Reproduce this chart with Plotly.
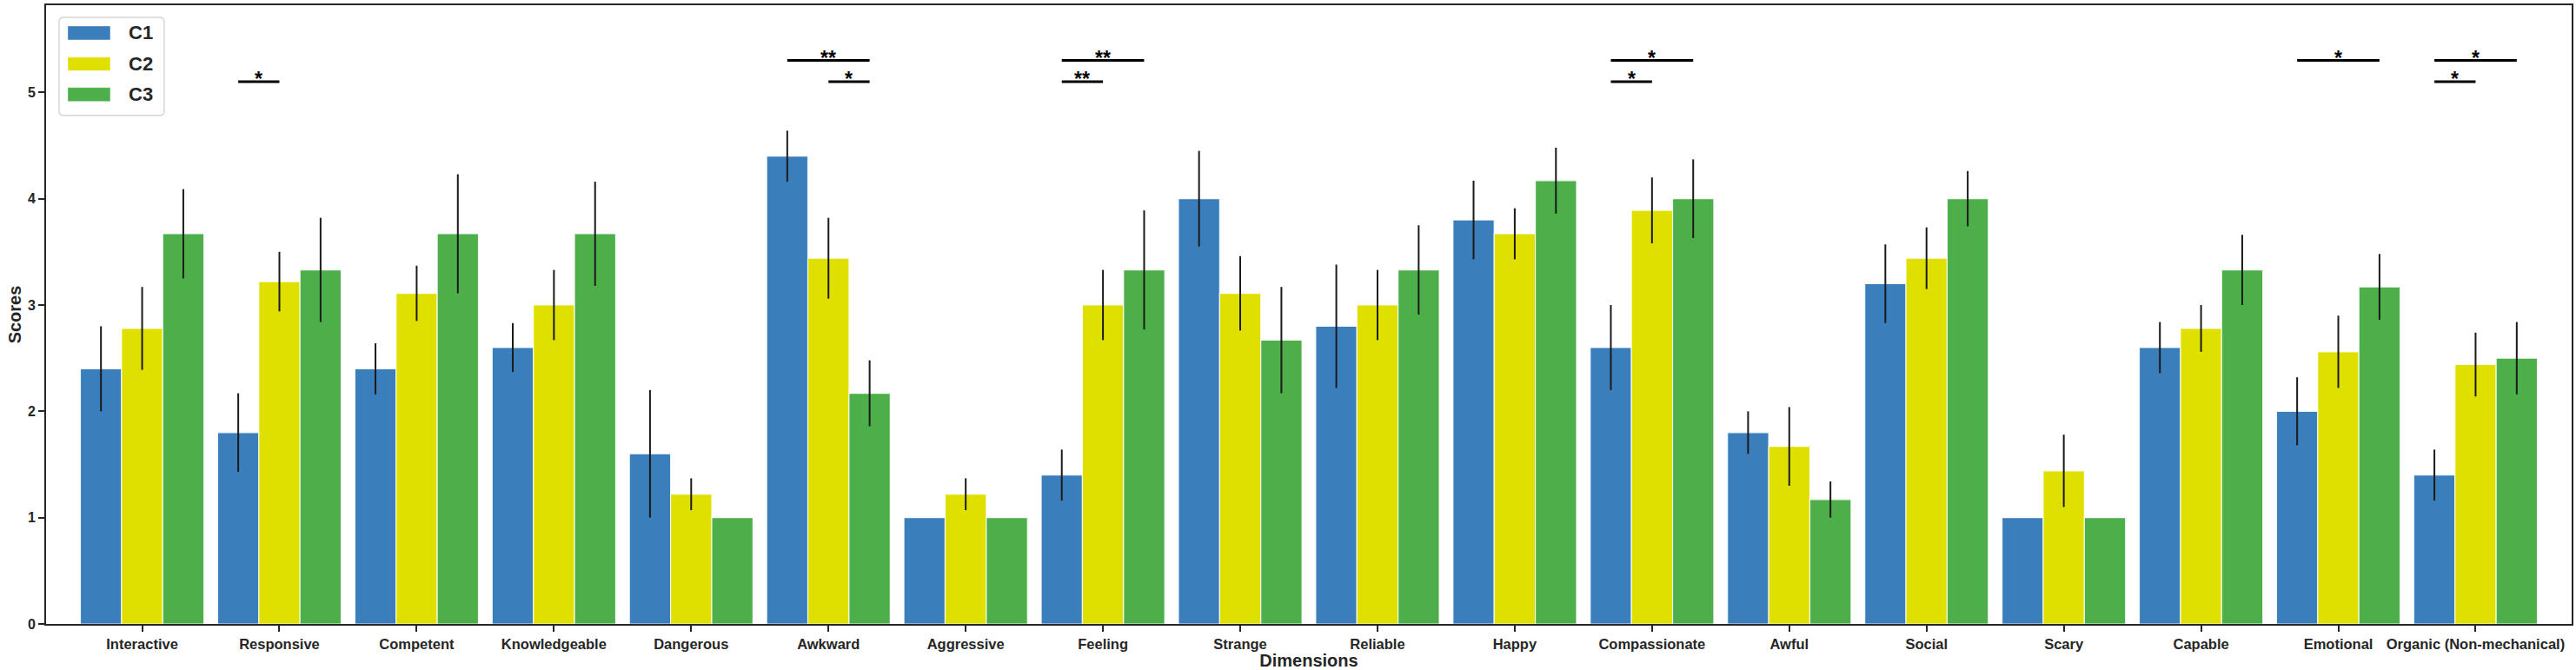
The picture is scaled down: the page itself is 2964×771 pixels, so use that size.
import plotly.graph_objects as go

# ---------------- data ----------------
categories = ["Interactive", "Responsive", "Competent", "Knowledgeable", "Dangerous",
              "Awkward", "Aggressive", "Feeling", "Strange", "Reliable", "Happy",
              "Compassionate", "Awful", "Social", "Scary", "Capable", "Emotional",
              "Organic (Non-mechanical)"]
series_names = ["C1", "C2", "C3"]

c1_values = [2.4, 1.8, 2.4, 2.6, 1.6, 4.4, 1.0, 1.4, 4.0, 2.8, 3.8, 2.6, 1.8, 3.2, 1.0, 2.6, 2.0, 1.4]
c2_values = [2.78, 3.22, 3.11, 3.0, 1.22, 3.44, 1.22, 3.0, 3.11, 3.0, 3.67, 3.89, 1.67, 3.44, 1.44, 2.78, 2.56, 2.44]
c3_values = [3.67, 3.33, 3.67, 3.67, 1.0, 2.17, 1.0, 3.33, 2.67, 3.33, 4.17, 4.0, 1.17, 4.0, 1.0, 3.33, 3.17, 2.5]

c1_errors = [0.40, 0.37, 0.24, 0.23, 0.60, 0.24, 0.0, 0.24, 0.45, 0.58, 0.37, 0.40, 0.20, 0.37, 0.0, 0.24, 0.32, 0.24]
c2_errors = [0.39, 0.28, 0.26, 0.33, 0.15, 0.38, 0.15, 0.33, 0.35, 0.33, 0.24, 0.31, 0.37, 0.29, 0.34, 0.22, 0.34, 0.30]
c3_errors = [0.42, 0.49, 0.56, 0.49, 0.0, 0.31, 0.0, 0.56, 0.50, 0.42, 0.31, 0.37, 0.17, 0.26, 0.0, 0.33, 0.31, 0.34]

# significance brackets: category, from series index, to series index, height, label
sig_category = ["Responsive", "Awkward", "Awkward", "Feeling", "Feeling",
                "Compassionate", "Compassionate", "Emotional",
                "Organic (Non-mechanical)", "Organic (Non-mechanical)"]
sig_from = [0, 0, 1, 0, 0, 0, 0, 0, 0, 0]
sig_to = [1, 2, 2, 2, 1, 2, 1, 2, 2, 1]
sig_height = [5.1, 5.3, 5.1, 5.3, 5.1, 5.3, 5.1, 5.3, 5.3, 5.1]
sig_label = ["*", "**", "*", "**", "**", "*", "*", "*", "*", "*"]

# ---------------- style ----------------
colors = ["#3a7ebb", "#dfdf00", "#4daf4a"]
FONT = "Liberation Sans, Arial, sans-serif"
INK = "#262626"
W, H = 2964, 771
ML, MR, MT, MB = 53, 3, 6, 51
PW, PH = W - ML - MR, H - MT - MB
BAR_W = 0.3


def px2x(px):
    return (px - ML) / PW


def py2y(py):
    return 1 - (py - MT) / PH


fig = go.Figure()
xs = list(range(len(categories)))
all_vals = [c1_values, c2_values, c3_values]
all_errs = [c1_errors, c2_errors, c3_errors]
for name, vals, errs, col in zip(series_names, all_vals, all_errs, colors):
    fig.add_trace(go.Bar(
        x=xs, y=vals, name=name,
        marker=dict(color=col, line=dict(color="rgba(255,255,255,0.85)", width=1.2)),
        error_y=dict(type="data", array=errs, visible=True, color="#1a1a1a",
                     thickness=2, width=0),
        showlegend=False,
    ))

shapes = []
annotations = []
# significance lines and stars
for cat, s0, s1, h, lab in zip(sig_category, sig_from, sig_to, sig_height, sig_label):
    i = categories.index(cat)
    x0 = i + (s0 - 1) * BAR_W
    x1 = i + (s1 - 1) * BAR_W
    shapes.append(dict(type="line", xref="x", yref="y", x0=x0, x1=x1, y0=h, y1=h,
                       line=dict(color="black", width=3)))
    annotations.append(dict(x=(x0 + x1) / 2, y=h, xref="x", yref="y", text=lab,
                            showarrow=False, yanchor="bottom", yshift=-12,
                            font=dict(family=FONT, size=23, color="black", weight="bold")))

# custom legend (wide swatches like the reference)
lx0, lx1, ly0, ly1 = 68, 189, 20, 133
r = 5
path = (f"M {px2x(lx0 + r)},{py2y(ly0)} L {px2x(lx1 - r)},{py2y(ly0)} "
        f"Q {px2x(lx1)},{py2y(ly0)} {px2x(lx1)},{py2y(ly0 + r)} "
        f"L {px2x(lx1)},{py2y(ly1 - r)} Q {px2x(lx1)},{py2y(ly1)} {px2x(lx1 - r)},{py2y(ly1)} "
        f"L {px2x(lx0 + r)},{py2y(ly1)} Q {px2x(lx0)},{py2y(ly1)} {px2x(lx0)},{py2y(ly1 - r)} "
        f"L {px2x(lx0)},{py2y(ly0 + r)} Q {px2x(lx0)},{py2y(ly0)} {px2x(lx0 + r)},{py2y(ly0)} Z")
shapes.append(dict(type="path", xref="paper", yref="paper", path=path,
                   fillcolor="rgba(255,255,255,0.9)", line=dict(color="#d6d6d6", width=1.5)))
sw_rows = [(30, 46), (66, 81.5), (101, 117)]
for (ya, yb), name, col in zip(sw_rows, series_names, colors):
    shapes.append(dict(type="rect", xref="paper", yref="paper",
                       x0=px2x(78), x1=px2x(127), y0=py2y(yb), y1=py2y(ya),
                       fillcolor=col, line=dict(color="rgba(255,255,255,0.4)", width=1)))
    annotations.append(dict(x=px2x(146), y=py2y((ya + yb) / 2), xref="paper", yref="paper",
                            text=name, showarrow=False, xanchor="left", yanchor="middle",
                            font=dict(family=FONT, size=22, color=INK, weight="bold")))

fig.update_layout(
    width=W, height=H,
    margin=dict(l=ML, r=MR, t=MT, b=MB, pad=0),
    paper_bgcolor="white", plot_bgcolor="white",
    barmode="group", bargap=0.1, bargroupgap=0,
    font=dict(family=FONT, color=INK),
    shapes=shapes, annotations=annotations,
    showlegend=False,
)
fig.update_xaxes(
    range=[-0.7, len(categories) - 0.3],
    tickmode="array", tickvals=xs, ticktext=categories,
    ticks="outside", ticklen=7, tickwidth=1.5, tickcolor=INK,
    showline=True, linecolor=INK, linewidth=2, mirror=True,
    showgrid=False, zeroline=False,
    tickfont=dict(family=FONT, size=16.5, color=INK, weight="bold"),
    title=dict(text="Dimensions", standoff=4,
               font=dict(family=FONT, size=20, color=INK, weight="bold")),
)
fig.update_yaxes(
    range=[0, 5.82], tickmode="linear", tick0=0, dtick=1,
    ticks="outside", ticklen=7, tickwidth=1.5, tickcolor=INK,
    showline=True, linecolor=INK, linewidth=2, mirror=True,
    showgrid=False, zeroline=False,
    tickfont=dict(family=FONT, size=16, color=INK, weight="bold"),
    title=dict(text="Scores", standoff=2,
               font=dict(family=FONT, size=20, color=INK, weight="bold")),
)

fig.write_html("out.html", config={"displayModeBar": False},
               post_script="document.body.style.margin='0';document.body.style.overflow='hidden';")
